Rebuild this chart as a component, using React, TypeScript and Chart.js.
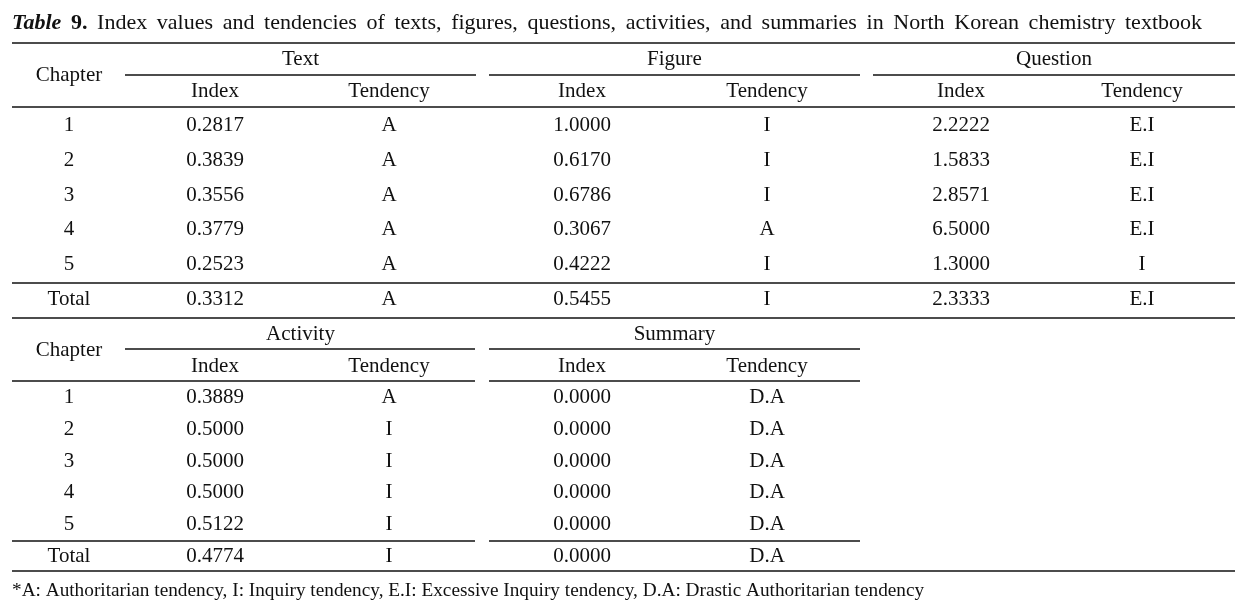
import React, { useEffect, useRef } from "react";
import { Chart, registerables } from "chart.js";

Chart.register(...registerables);

// ---------- DATA ----------
const titleLead = ["Table", "9."];
const titleText =
  "Index values and tendencies of texts, figures, questions, activities, and summaries in North Korean chemistry textbook";
const footnote =
  "*A: Authoritarian tendency, I: Inquiry tendency, E.I: Excessive Inquiry tendency, D.A: Drastic Authoritarian tendency";

const chapters = ["1", "2", "3", "4", "5", "Total"];
const groups1 = ["Text", "Figure", "Question"];
const groups2 = ["Activity", "Summary"];
const subHeaders = ["Index", "Tendency"];
const chapterHeader = "Chapter";

const textIndex = [0.2817, 0.3839, 0.3556, 0.3779, 0.2523, 0.3312];
const textTendency = ["A", "A", "A", "A", "A", "A"];
const figureIndex = [1.0, 0.617, 0.6786, 0.3067, 0.4222, 0.5455];
const figureTendency = ["I", "I", "I", "A", "I", "I"];
const questionIndex = [2.2222, 1.5833, 2.8571, 6.5, 1.3, 2.3333];
const questionTendency = ["E.I", "E.I", "E.I", "E.I", "I", "E.I"];
const activityIndex = [0.3889, 0.5, 0.5, 0.5, 0.5122, 0.4774];
const activityTendency = ["A", "I", "I", "I", "I", "I"];
const summaryIndex = [0.0, 0.0, 0.0, 0.0, 0.0, 0.0];
const summaryTendency = ["D.A", "D.A", "D.A", "D.A", "D.A", "D.A"];

// ---------- LAYOUT ----------
const W = 1248;
const H = 614;
const FONT = "'Liberation Serif', 'Times New Roman', serif";
const INK = "#111";
const LEFT = 12;
const RIGHT = 1235;
const COL_CHAPTER = 69;
const COL_INDEX = [215, 582, 961];
const COL_TEND = [389, 767, 1142];
const SPANS = [
  [125, 476],
  [489, 860],
  [873, 1235],
];
const T1 = { group: 65, sub: 97, chapter: 81, rows: [131, 166, 201, 235, 270, 305] };
const T2 = { group: 340, sub: 372, chapter: 356, rows: [403, 435, 467, 498, 530, 562] };
const TITLE_Y = 29;
const TITLE_SIZE = 22;
const TITLE_RIGHT = 1202;
const FOOT_Y = 596;
const FOOT_RIGHT = 925;

type Seg = [number, number, number];
const RULES: Seg[] = [
  [43, LEFT, RIGHT],
  [75, SPANS[0][0], SPANS[0][1]],
  [75, SPANS[1][0], SPANS[1][1]],
  [75, SPANS[2][0], SPANS[2][1]],
  [107, LEFT, RIGHT],
  [283, LEFT, RIGHT],
  [318, LEFT, RIGHT],
  [349, SPANS[0][0], SPANS[0][1] - 1],
  [349, SPANS[1][0], SPANS[1][1]],
  [381, LEFT, SPANS[0][1] - 1],
  [381, SPANS[1][0], SPANS[1][1]],
  [541, LEFT, SPANS[0][1] - 1],
  [541, SPANS[1][0], SPANS[1][1]],
  [571, LEFT, RIGHT],
];

function column(values: (number | string)[], x: number, rows: number[], label: string) {
  return {
    label,
    data: values.map((_, i) => ({ x, y: rows[i] })),
    cellText: values.map((v) => (typeof v === "number" ? v.toFixed(4) : v)),
    pointRadius: 0,
    showLine: false,
  };
}

const tablePlugin = {
  id: "tablePlugin",
  afterDatasetsDraw(chart: any) {
    const ctx: CanvasRenderingContext2D = chart.ctx;
    const xs = chart.scales.x;
    const ys = chart.scales.y;
    const px = (v: number) => xs.getPixelForValue(v);
    const py = (v: number) => ys.getPixelForValue(v);
    ctx.save();
    ctx.fillStyle = INK;
    ctx.strokeStyle = INK;
    ctx.textBaseline = "alphabetic";

    // rules
    ctx.lineWidth = 1.6;
    RULES.forEach(([y, a, b]) => {
      ctx.beginPath();
      ctx.moveTo(px(a), py(y));
      ctx.lineTo(px(b), py(y));
      ctx.stroke();
    });

    const txt = (s: string, x: number, y: number, font: string, align: CanvasTextAlign = "center") => {
      ctx.font = font;
      ctx.textAlign = align;
      ctx.fillText(s, px(x), py(y));
    };
    const body = `21px ${FONT}`;

    // headers
    [T1, T2].forEach((t, ti) => {
      txt(chapterHeader, COL_CHAPTER, t.chapter, body);
      const gs = ti === 0 ? groups1 : groups2;
      gs.forEach((g, gi) => {
        txt(g, (SPANS[gi][0] + SPANS[gi][1]) / 2, t.group, body);
        txt(subHeaders[0], COL_INDEX[gi], t.sub, body);
        txt(subHeaders[1], COL_TEND[gi], t.sub, body);
      });
      chapters.forEach((c, i) => txt(c, COL_CHAPTER, t.rows[i], body));
    });

    // cells from datasets
    chart.data.datasets.forEach((ds: any, di: number) => {
      const meta = chart.getDatasetMeta(di);
      meta.data.forEach((el: any, i: number) => {
        ctx.font = body;
        ctx.textAlign = "center";
        ctx.fillText(ds.cellText[i], el.x, el.y);
      });
    });

    // title (justified)
    const words: { s: string; f: string }[] = [
      { s: titleLead[0], f: `italic bold ${TITLE_SIZE}px ${FONT}` },
      { s: titleLead[1], f: `bold ${TITLE_SIZE}px ${FONT}` },
      ...titleText.split(" ").map((s) => ({ s, f: `${TITLE_SIZE}px ${FONT}` })),
    ];
    let total = 0;
    const widths = words.map((w) => {
      ctx.font = w.f;
      const m = ctx.measureText(w.s).width;
      total += m;
      return m;
    });
    const span = px(TITLE_RIGHT) - px(LEFT);
    const gap = (span - total) / (words.length - 1);
    let cx = px(LEFT);
    ctx.textAlign = "left";
    words.forEach((w, i) => {
      ctx.font = w.f;
      ctx.fillText(w.s, cx, py(TITLE_Y));
      cx += widths[i] + gap;
    });

    // footnote fitted to its width
    ctx.font = `18px ${FONT}`;
    const fw = ctx.measureText(footnote).width;
    const size = (18 * (px(FOOT_RIGHT) - px(LEFT))) / fw;
    ctx.font = `${size.toFixed(2)}px ${FONT}`;
    ctx.textAlign = "left";
    ctx.fillText(footnote, px(LEFT), py(FOOT_Y));

    ctx.restore();
  },
};

export default function App() {
  const ref = useRef<HTMLCanvasElement | null>(null);
  useEffect(() => {
    if (!ref.current) return;
    const datasets = [
      column(textIndex, COL_INDEX[0], T1.rows, "Text Index"),
      column(textTendency, COL_TEND[0], T1.rows, "Text Tendency"),
      column(figureIndex, COL_INDEX[1], T1.rows, "Figure Index"),
      column(figureTendency, COL_TEND[1], T1.rows, "Figure Tendency"),
      column(questionIndex, COL_INDEX[2], T1.rows, "Question Index"),
      column(questionTendency, COL_TEND[2], T1.rows, "Question Tendency"),
      column(activityIndex, COL_INDEX[0], T2.rows, "Activity Index"),
      column(activityTendency, COL_TEND[0], T2.rows, "Activity Tendency"),
      column(summaryIndex, COL_INDEX[1], T2.rows, "Summary Index"),
      column(summaryTendency, COL_TEND[1], T2.rows, "Summary Tendency"),
    ];
    const chart = new Chart(ref.current, {
      type: "scatter",
      data: { datasets: datasets as any },
      options: {
        animation: false,
        responsive: false,
        maintainAspectRatio: false,
        events: [],
        layout: { padding: 0 },
        plugins: { legend: { display: false }, tooltip: { enabled: false } },
        scales: {
          x: { type: "linear", display: false, min: 0, max: W },
          y: { type: "linear", display: false, min: 0, max: H, reverse: true },
        },
      },
      plugins: [tablePlugin],
    });
    (document as any).fonts?.ready?.then(() => chart.update());
    return () => chart.destroy();
  }, []);
  return (
    <div style={{ position: "fixed", left: 0, top: 0, width: W, height: H, background: "#fff" }}>
      <canvas ref={ref} width={W} height={H} style={{ width: W, height: H }} />
    </div>
  );
}
